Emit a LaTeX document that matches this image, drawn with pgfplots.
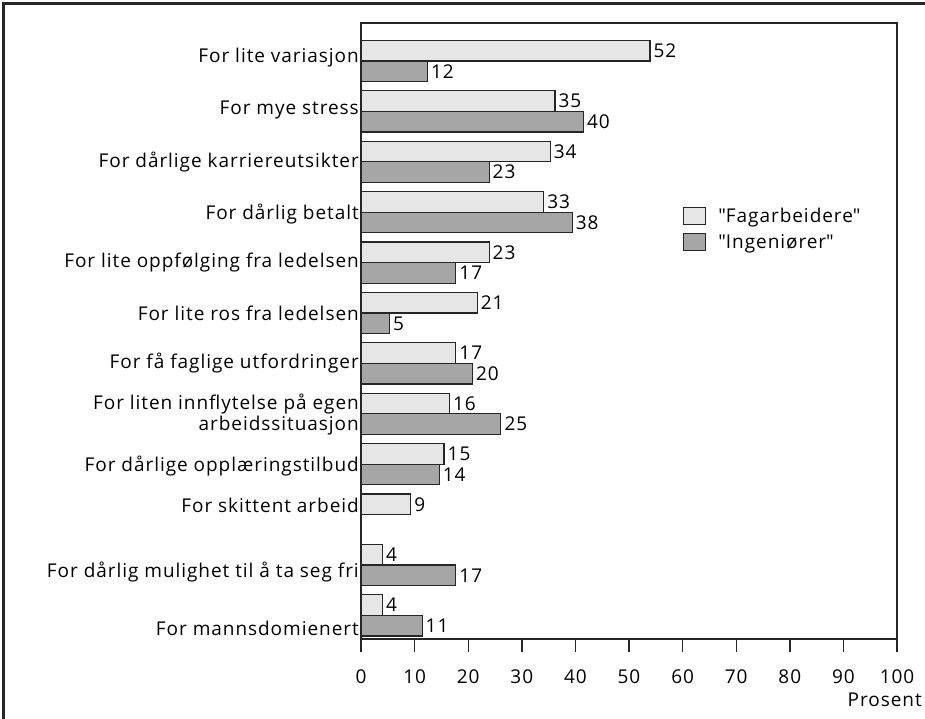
\documentclass[border=0pt]{standalone}
\usepackage{fontspec}
\setmainfont{Open Sans}[LetterSpace=5]
\newfontfamily\qf{Open Sans}[LetterSpace=5]
\usepackage{pgfplots}
\pgfplotsset{compat=1.18}
\definecolor{lightbar}{HTML}{E6E6E6}
\definecolor{darkbar}{HTML}{A6A6A6}
\definecolor{edge}{HTML}{262626}
\newcommand{\chartfont}{\fontsize{19}{21}\selectfont}

\begin{document}
\begin{tikzpicture}
\path[use as bounding box] (0pt,0pt) rectangle (925pt,-718pt);
% outer frame, cut at right and bottom as in the reference
\draw[line width=2.5pt, edge] (3.5pt,-3.5pt) rectangle (945pt,-740pt);
\begin{axis}[
    at={(361pt,-639pt)}, anchor=south west,
    width=536pt, height=616pt, scale only axis,
    xbar, bar width=0.41, bar shift=0pt,
    xmin=0, xmax=100,
    ymin=0.246, ymax=12.468, y dir=reverse,
    axis line style={line width=1.4pt, edge},
    xtick={0,10,...,100},
    xtick pos=bottom, tick align=outside,
    major tick length=13pt,
    x tick style={line width=1.4pt, edge},
    /pgf/number format/assume math mode=true,
    tick label style={font=\chartfont},
    xticklabel style={yshift=-14pt},
    ytick={0.93,1.97,3,4.03,5,6,7,8.02,9.04,9.81,11.14,12.25},
    yticklabels={
        For lite variasjon,
        For mye stress,
        For dårlige karriereutsikter,
        For dårlig betalt,
        For lite oppfølging fra ledelsen,
        For lite ros fra ledelsen,
        For få faglige utfordringer,
        {For liten innflytelse på egen\\arbeidssituasjon},
        For dårlige opplæringstilbud,
        For skittent arbeid,
        For dårlig mulighet til å ta seg fri,
        For mannsdomienert},
    yticklabel style={align=right, inner xsep=1pt, xshift=12pt},
    y tick style={draw=none},
    point meta=explicit,
    nodes near coords,
    every node near coord/.append style={anchor=west, inner xsep=3pt,
        font=\chartfont, text=black},
    legend style={draw=none, fill=none, at={(0.595,0.706)}, anchor=north west,
        font=\chartfont, row sep=6pt,
        /tikz/every odd column/.append style={column sep=10pt}},
    legend cell align=left,
    legend image code/.code={\draw[#1] (0pt,-8.5pt) rectangle (22pt,8.5pt);},
]

% light bars (upper bar of each group)
\addplot[fill=lightbar, draw=edge, line width=1.2pt] coordinates {
    (53.9,0.795) [52]
    (36.2,1.795) [35]
    (35.3,2.795) [34]
    (34.1,3.795) [33]
    (23.9,4.795) [23]
    (21.7,5.795) [21]
    (17.7,6.795) [17]
    (16.5,7.795) [16]
    (15.5,8.795) [15]
    (9.3,9.795)  [9]
    (4.0,10.795) [4]
    (4.0,11.795) [4]
};

% dark bars (lower bar of each group)
\addplot[fill=darkbar, draw=edge, line width=1.2pt] coordinates {
    (12.4,1.205) [12]
    (41.5,2.205) [40]
    (23.9,3.205) [23]
    (39.4,4.205) [38]
    (17.7,5.205) [17]
    (5.3,6.205)  [5]
    (20.8,7.205) [20]
    (26.1,8.205) [25]
    (14.6,9.205) [14]
    (17.7,11.205) [17]
    (11.4,12.205) [11]
};

\legend{{\qf"}Fagarbeidere{\qf"}, {\qf"}Ingeniører{\qf"}}
\end{axis}
\node[anchor=east, font=\chartfont, inner sep=0pt] at (922pt,-700pt) {Prosent};
\end{tikzpicture}
\end{document}
